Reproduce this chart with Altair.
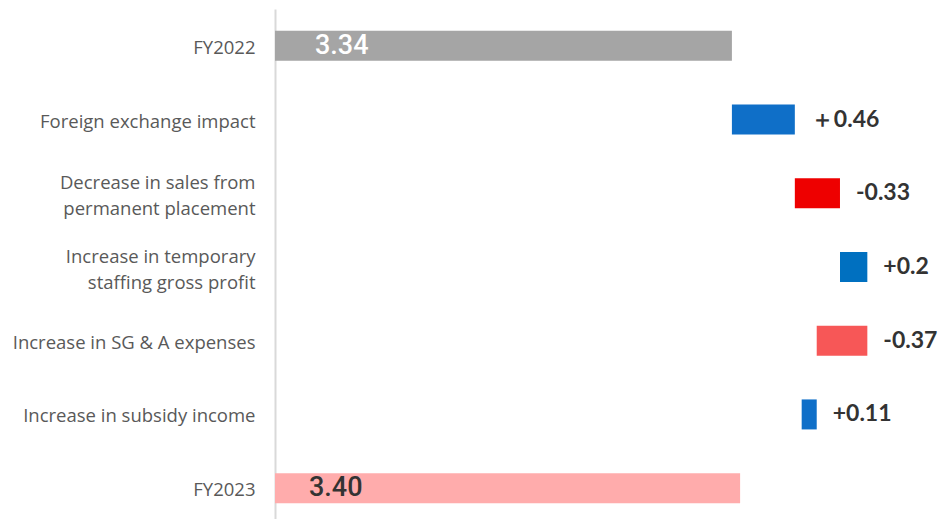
import altair as alt
import pandas as pd

categories = [
    "FY2022",
    "Foreign exchange impact",
    "Decrease in sales from|permanent placement",
    "Increase in temporary|staffing gross profit",
    "Increase in SG & A expenses",
    "Increase in subsidy income",
    "FY2023",
]
bar_base = [0.0, 3.34, 3.80, 4.13, 3.96, 3.85, 0.0]
bar_len = [3.34, 0.46, 0.33, 0.20, 0.37, 0.11, 3.40]
value_labels = ["3.34", "＋0.46", "-0.33", "+0.2", "-0.37", "+0.11", "3.40"]
bar_colors = ["#A5A5A5", "#0F6FC8", "#EE0000", "#0070C0", "#F75757", "#0F6FC8", "#FFACAC"]
kinds = ["total_a", "delta", "delta", "delta", "delta", "delta", "total_b"]
total_text_colors = ["#FFFFFF", "#333333", "#333333", "#333333", "#333333", "#333333", "#333333"]

df = pd.DataFrame({
    "cat": categories,
    "x0": bar_base,
    "x1": [b + l for b, l in zip(bar_base, bar_len)],
    "label": value_labels,
    "color": bar_colors,
    "kind": kinds,
    "tcolor": total_text_colors,
})

xscale = alt.Scale(domain=[0, 4.81], nice=False, zero=False)
yenc = alt.Y(
    "cat:N",
    sort=categories,
    scale=alt.Scale(paddingInner=0.593),
    axis=alt.Axis(
        title=None,
        ticks=False,
        grid=False,
        domain=True,
        domainColor="#D9D9D9",
        domainWidth=2,
        labelFont="Open Sans",
        labelFontSize=18.5,
        labelColor="#595959",
        labelPadding=20,
        labelLimit=0,
        labelLineHeight=26,
        labelOffset={"expr": "indexof(datum.value, '|') >= 0 ? -10 : 2"},
        labelExpr="split(datum.label, '|')",
    ),
)

base = alt.Chart(df).encode(y=yenc)

bars = base.mark_bar(cornerRadius=0).encode(
    x=alt.X("x0:Q", scale=xscale, axis=None),
    x2="x1:Q",
    color=alt.Color("color:N", scale=None),
)

delta_text = base.transform_filter("datum.kind == 'delta'").mark_text(
    align="left", baseline="middle", dx=16, font="Lato", fontSize=23, fontWeight="bold", color="#333333"
).encode(x=alt.X("x1:Q", scale=xscale), text="label:N")

def total_layer(kind, dx):
    return base.transform_filter(f"datum.kind == '{kind}'").mark_text(
        align="left", baseline="middle", dx=dx, font="Roboto", fontSize=27, fontWeight=500
    ).encode(
        x=alt.X("x0:Q", scale=xscale),
        text="label:N",
        color=alt.Color("tcolor:N", scale=None),
    )

chart = alt.layer(bars, delta_text, total_layer("total_a", 40), total_layer("total_b", 34)).properties(
    width=658,
    height=516,
    background="white",
    autosize=alt.AutoSizeParams(type="none"),
    padding={"left": 275, "top": 9, "right": 5, "bottom": 0},
).configure_view(stroke=None)

chart.save("out.html", embed_options={"renderer": "svg", "actions": False})
